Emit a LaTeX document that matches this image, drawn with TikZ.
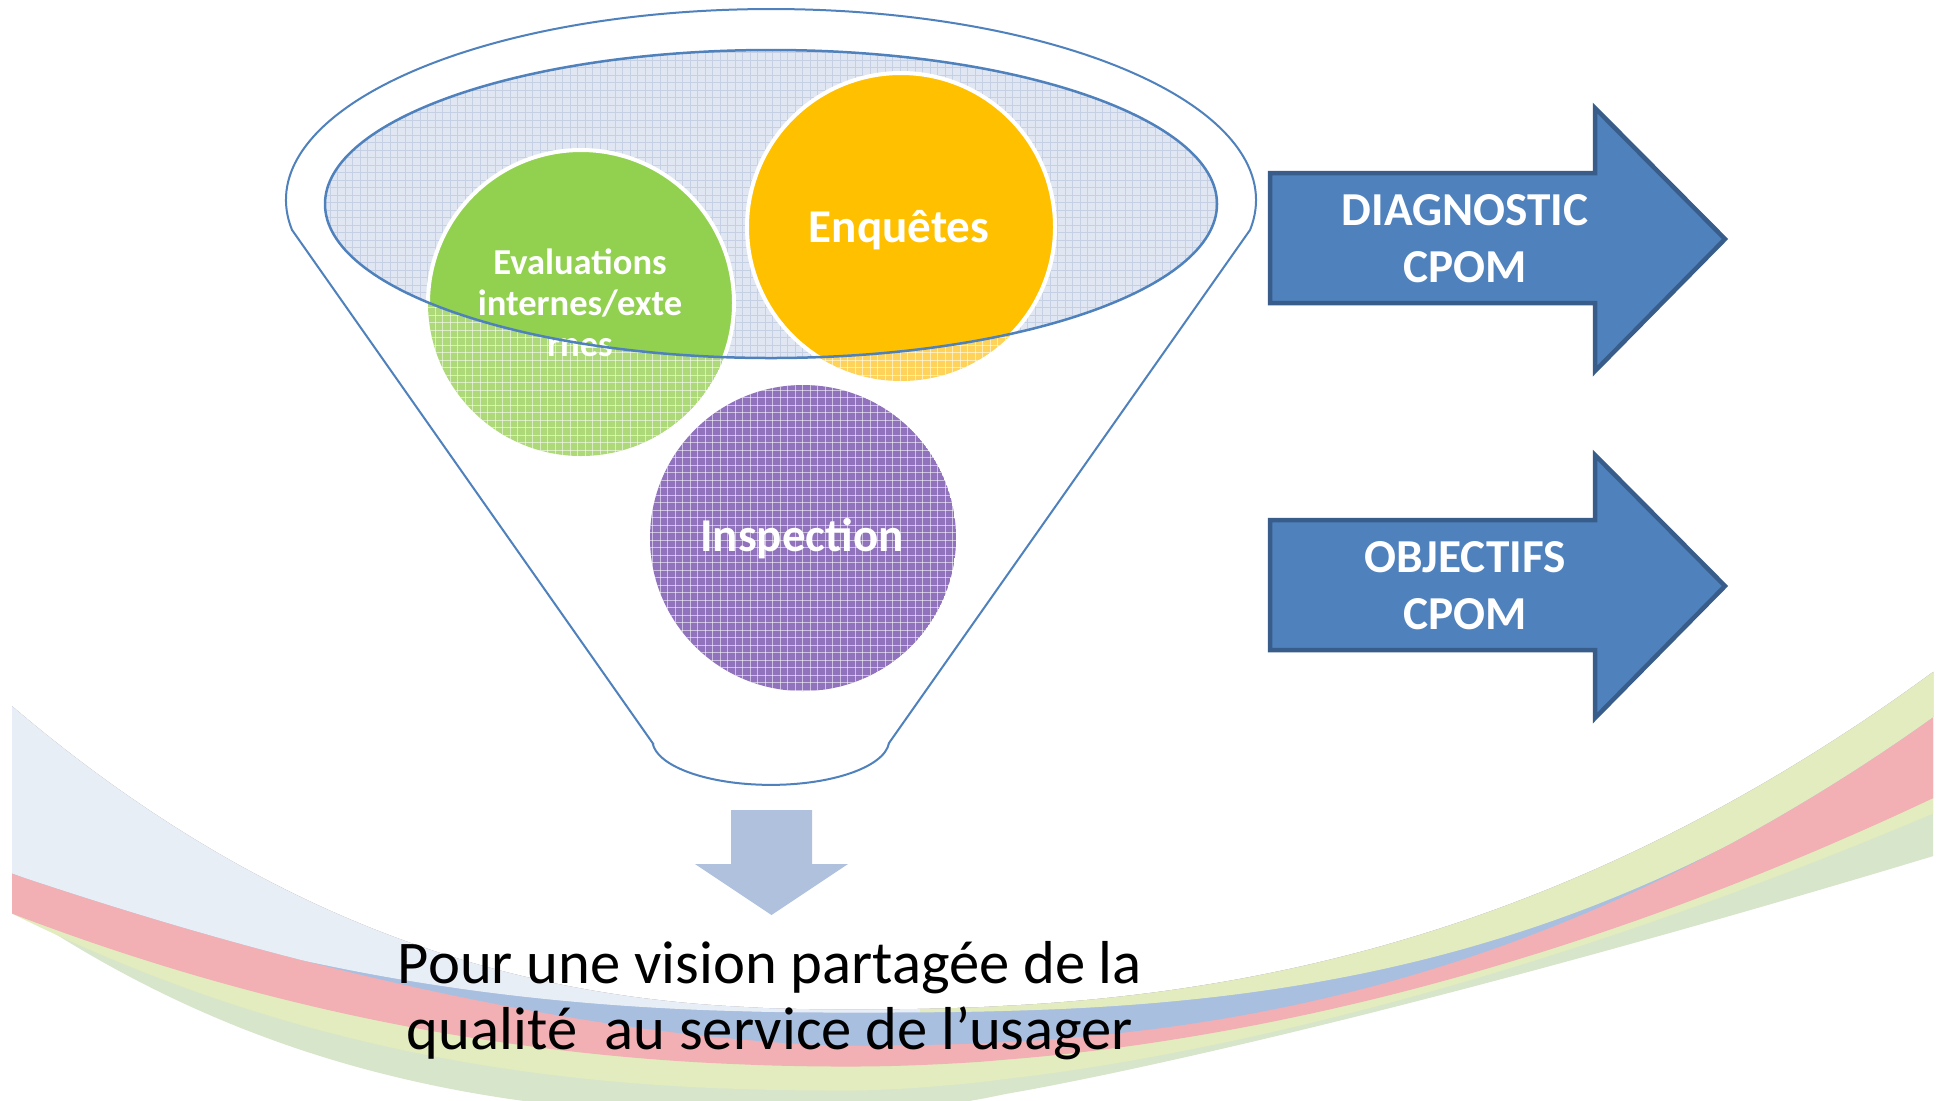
\documentclass[tikz,border=0pt]{standalone}
\usepackage{fontspec}
\setmainfont{Carlito}
\usepackage{tikz}
\usepackage{xcolor}
\definecolor{funnelblue}{HTML}{4F81BD}
\definecolor{arrowedge}{HTML}{385D8A}
\definecolor{downblue}{HTML}{B0C1DE}
\definecolor{evalgreen}{HTML}{92D050}
\definecolor{evalmesh}{HTML}{AED978}
\definecolor{enqyellow}{HTML}{FFC000}
\definecolor{enqmesh}{HTML}{FFD35A}
\definecolor{inspmesh}{HTML}{9172BD}
\definecolor{topmesh}{HTML}{E1E7F2}
\definecolor{topmeshline}{HTML}{C5D0E4}
\definecolor{bandsky}{HTML}{E8EEF6}
\definecolor{bandblue}{HTML}{A9BFE0}
\definecolor{bandrose}{HTML}{F2B0B5}
\definecolor{bandlime}{HTML}{E3ECBE}
\definecolor{bandsage}{HTML}{D7E5CA}

% mesh of thin lines, columns #2..#3 and rows #4..#5 (step 7.5)
\newcommand{\meshlines}[5]{%
  \foreach \mx in {#2,...,#3} {\draw[#1] (\mx*7.5,#4*7.5) -- (\mx*7.5,#5*7.5);}
  \foreach \my in {#4,...,#5} {\draw[#1] (#2*7.5,\my*7.5) -- (#3*7.5,\my*7.5);}
}

% ribbon edges: lowest point at x=850, rising to the left and right edges
\tikzset{declare function={
  ucurve(\xx,\ybot,\hlft,\plft,\hrgt,\prgt)=\ybot-(\xx<850)*\hlft*(abs(850-\xx)/838+0.0001)^\plft-(\xx>=850)*\hrgt*(abs(\xx-850)/1095+0.0001)^\prgt;
  ttop(\xx)=ucurve(\xx,1010,303,2.35,346,2.35);
  rtop(\xx)=ucurve(\xx,1045,172,1.65,337,2.35);
  btop(\xx)=min(ucurve(\xx,1012,139,2.3,304,2.7),rtop(\xx));
  ytop(\xx)=ucurve(\xx,1066,153,2.1,274,1.9);
  gtop(\xx)=ucurve(\xx,1090,177,2.35,282,1.65);
  gbot(\xx)=ucurve(\xx,1117,212,2.7,265,1.25);
}}

\begin{document}
\begin{tikzpicture}[x=0.02cm, y=-0.02cm,
  mesh/.style={white, opacity=.55, line width=0.018cm},
  topline/.style={topmeshline, line width=0.018cm},
  band/.style={fill=#1, draw=#1, line width=0.6pt},
  bubble/.style={white, font=\bfseries\fontsize{26.8}{32}\selectfont, inner sep=0pt},
  evaltext/.style={white, font=\bfseries\fontsize{20.8}{23.4}\selectfont, align=center, inner sep=0pt},
  arrowtext/.style={white, font=\bfseries\fontsize{26.9}{32.4}\selectfont, align=center, inner sep=0pt},
  bigarrow/.style={fill=funnelblue, draw=arrowedge, line width=0.09cm, line join=miter},
  visiontext/.style={black, font=\fontsize{34.5}{37.6}\selectfont, align=center, inner sep=0pt}]

\useasboundingbox (0,0) rectangle (1939,1100);
\fill[white] (0,0) rectangle (1939,1100);

% ribbon along the bottom, painted from the lowest strip up
\begin{scope}
  \clip (12,600) rectangle (1933,1100);
  \path[band=bandsage] plot[smooth, domain=0:1945, samples=90] (\x,{ttop(\x)})
    -- plot[smooth, domain=1945:0, samples=90] (\x,{gbot(\x)}) -- cycle;
  \path[band=bandlime] plot[smooth, domain=0:1945, samples=90] (\x,{ttop(\x)})
    -- plot[smooth, domain=1945:0, samples=90] (\x,{gtop(\x)}) -- cycle;
  \path[band=bandrose] plot[smooth, domain=0:1945, samples=90] (\x,{ttop(\x)})
    -- plot[smooth, domain=1945:0, samples=90] (\x,{ytop(\x)}) -- cycle;
  \path[band=bandblue] plot[smooth, domain=0:1945, samples=90] (\x,{ttop(\x)})
    -- plot[smooth, domain=1945:0, samples=90] (\x,{rtop(\x)}) -- cycle;
  % top strip: sky on the left, lime on the right
  \begin{scope}
    \clip (0,600) rectangle (920,1100);
    \path[band=bandsky] plot[smooth, domain=0:1945, samples=90] (\x,{ttop(\x)})
      -- plot[smooth, domain=1945:0, samples=90] (\x,{btop(\x)}) -- cycle;
  \end{scope}
  \begin{scope}
    \clip (920,600) rectangle (1945,1100);
    \path[band=bandlime] plot[smooth, domain=0:1945, samples=90] (\x,{ttop(\x)})
      -- plot[smooth, domain=1945:0, samples=90] (\x,{btop(\x)}) -- cycle;
  \end{scope}
\end{scope}

% funnel outline
\draw[funnelblue, line width=0.04cm] (652.6,743) -- (292,229.9)
  arc[start angle=171, end angle=369, x radius=485, y radius=191] -- (889,743)
  arc[start angle=4, end angle=176, x radius=118.5, y radius=45] -- cycle;

% funnel top
\fill[topmesh] (771,204) ellipse[x radius=446, y radius=154];
\begin{scope}
  \clip (771,204) ellipse[x radius=446, y radius=154];
  \meshlines{topline}{43}{163}{6}{48}
\end{scope}

% bubbles, meshed
\begin{scope}
  \clip (581,303) circle[radius=153];
  \fill[evalmesh] (581,303) circle[radius=153];
  \meshlines{mesh}{57}{98}{20}{61}
\end{scope}
\begin{scope}
  \clip (901,227) circle[radius=154];
  \fill[enqmesh] (901,227) circle[radius=154];
  \meshlines{mesh}{99}{141}{9}{51}
\end{scope}
\begin{scope}
  \clip (803,538) circle[radius=153];
  \fill[inspmesh] (803,538) circle[radius=153];
  \meshlines{mesh}{86}{128}{51}{93}
\end{scope}

% bubbles inside the funnel top
\begin{scope}
  \clip (771,204) ellipse[x radius=446, y radius=154];
  \filldraw[fill=evalgreen, draw=white, line width=0.08cm] (581,303) circle[radius=153];
  \filldraw[fill=enqyellow, draw=white, line width=0.08cm] (901,227) circle[radius=154];
\end{scope}
\node[evaltext] (eval) at (580,303) {Evaluations\\internes/exte\\rnes};
\node[bubble, anchor=base] (enq) at (899,242) {Enquêtes};
\node[bubble, anchor=base] (insp) at (802,551) {Inspection};

\draw[funnelblue, line width=0.05cm] (771,204) ellipse[x radius=446, y radius=154];

% right arrows
\path[bigarrow] (1270,173) -- (1595,173) -- (1595,108) -- (1725,239) -- (1595,371) -- (1595,303) -- (1270,303) -- cycle;
\node[arrowtext] (diag) at (1465,239) {DIAGNOSTIC\\CPOM};
\path[bigarrow] (1270,520) -- (1595,520) -- (1595,455) -- (1725,586) -- (1595,718) -- (1595,650) -- (1270,650) -- cycle;
\node[arrowtext] (obj) at (1465,586) {OBJECTIFS\\CPOM};

% down arrow and conclusion
\fill[downblue] (731,810) -- (812,810) -- (812,864) -- (848,864) -- (771.5,915) -- (695,864) -- (731,864) -- cycle;
\node[visiontext] (vision) at (770,1001) {Pour une vision partagée de la\\qualité\ \ au service de l’usager};
\end{tikzpicture}
\end{document}
